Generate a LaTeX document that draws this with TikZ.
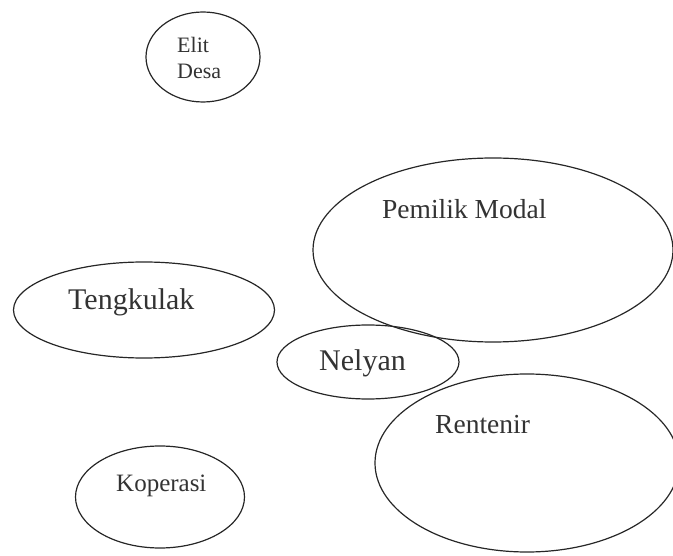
\documentclass[tikz,border=0pt]{standalone}
\usepackage{fontspec}
\setmainfont{Liberation Serif}
\usetikzlibrary{shapes.geometric,positioning}

\begin{document}
\begin{tikzpicture}[
    x=1pt, y=-1pt,
    actor/.style={draw=black!85, ellipse, line width=1.2pt, inner sep=0pt},
    lbl/.style={anchor=base west, inner sep=0pt, text=black!80},
    big/.style={font=\fontsize{30}{34}\selectfont},
    mid/.style={font=\fontsize{27.5}{32}\selectfont},
    small/.style={font=\fontsize{22}{26}\selectfont}
]
    \useasboundingbox (0,0) rectangle (673,556);
    \clip (0,0) rectangle (673,556);

    % ellipses
    \node[actor, minimum width=114, minimum height=90] (elit) at (203, 57) {};
    \node[actor, minimum width=360, minimum height=184] (modal) at (493, 250) {};
    \node[actor, minimum width=261, minimum height=96] (tengkulak) at (144, 310) {};
    \node[actor, minimum width=182, minimum height=74] (nelayan) at (368, 362) {};
    \node[actor, minimum width=304, minimum height=178] (rentenir) at (527, 463) {};
    \node[actor, minimum width=169, minimum height=102] (koperasi) at (160, 497) {};

    % labels
    \node[lbl, small, align=left] (elitT) at (177, 79) {Elit\\Desa};
    \node[lbl, mid] (modalT) at (382, 219) {Pemilik Modal};
    \node[lbl, big] (tengkulakT) at (68, 310) {Tengkulak};
    \node[lbl, big] (nelayanT) at (319, 371) {Nelyan};
    \node[lbl, mid] (rentenirT) at (435, 434) {Rentenir};
    \node[lbl, font=\fontsize{25}{30}\selectfont] (koperasiT) at (116, 492) {Koperasi};
\end{tikzpicture}
\end{document}
